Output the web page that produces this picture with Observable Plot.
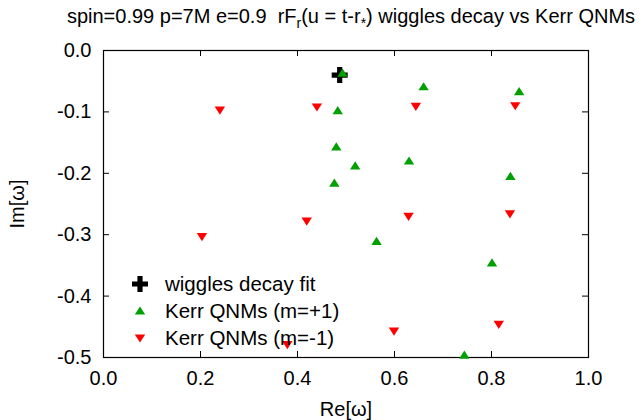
<!DOCTYPE html>
<html><head><meta charset="utf-8">
<script src="https://cdn.jsdelivr.net/npm/d3@7"></script>
<script src="https://cdn.jsdelivr.net/npm/@observablehq/plot@0.6"></script>
<style>
body{margin:0;background:#fff;font-family:"Liberation Sans",Arial,sans-serif;color:#000;}
#wrap{position:relative;width:644px;height:420px;overflow:hidden;}
#title{height:40px;position:relative;font-size:20px;}
#title span.t{position:absolute;left:351px;top:5px;transform:translateX(-50%);white-space:nowrap;}
#title sub{font-size:14px;vertical-align:-5px;line-height:0;}
#legend{position:absolute;left:130px;top:270px;font-size:20.5px;}
#legend .row{height:27px;display:flex;align-items:center;}
#legend svg{width:20px;height:20px;margin-right:15px;}
#legend span{white-space:nowrap;}
#chart svg text{font-size:20px !important;}
</style></head><body>
<div id="wrap">
<div id="title"><span class="t">spin=0.99 p=7M e=0.9&nbsp; rF<sub>r</sub>(u = t-r<sub>*</sub>) wiggles decay vs Kerr QNMs</span></div>
<div id="chart"></div>
<div id="legend"></div>
</div>
<script>
// data
const fitRe = [0.487];
const fitIm = [-0.040];
const plusRe = [0.493, 0.483, 0.480, 0.519, 0.476, 0.660, 0.857, 0.630, 0.839, 0.563, 0.801, 0.744];
const plusIm = [-0.037, -0.098, -0.157, -0.188, -0.216, -0.059, -0.067, -0.180, -0.205, -0.311, -0.346, -0.496];
const minusRe = [0.240, 0.440, 0.644, 0.849, 0.203, 0.419, 0.379, 0.629, 0.838, 0.599, 0.815];
const minusIm = [-0.097, -0.092, -0.091, -0.090, -0.303, -0.278, -0.479, -0.270, -0.266, -0.457, -0.446];
const xTicks = [0, 0.2, 0.4, 0.6, 0.8, 1.0];
const yTicks = [0, -0.1, -0.2, -0.3, -0.4, -0.5];
const seriesNames = ["wiggles decay fit", "Kerr QNMs (m=+1)", "Kerr QNMs (m=-1)"];
const seriesColors = ["#000000", "#00a000", "#ff0000"];

const fit = fitRe.map((x, i) => ({x, y: fitIm[i]}));
const plus = plusRe.map((x, i) => ({x, y: plusIm[i]}));
const minus = minusRe.map((x, i) => ({x, y: minusIm[i]}));

const crossSym = {draw(c) { const a = 8, b = 2.6;
  c.moveTo(-b,-a); c.lineTo(b,-a); c.lineTo(b,-b); c.lineTo(a,-b); c.lineTo(a,b); c.lineTo(b,b);
  c.lineTo(b,a); c.lineTo(-b,a); c.lineTo(-b,b); c.lineTo(-a,b); c.lineTo(-a,-b); c.lineTo(-b,-b); c.closePath(); }};
const upSym = {draw(c) { c.moveTo(0,-4.6); c.lineTo(5.2,3.6); c.lineTo(-5.2,3.6); c.closePath(); }};
const downSym = {draw(c) { c.moveTo(0,4.6); c.lineTo(5.2,-3.6); c.lineTo(-5.2,-3.6); c.closePath(); }};

const W = 644, H = 380, mT = 10, mB = 63, mL = 103, mR = 56;
const pH = H - mT - mB, pW = W - mL - mR, tk = 6;

const chart = Plot.plot({
  width: W, height: H,
  marginTop: mT, marginBottom: mB, marginLeft: mL, marginRight: mR,
  style: {fontFamily: '"Liberation Sans", Arial, sans-serif', fontSize: "20px", background: "#fff", color: "#000"},
  x: {domain: [0, 1]},
  y: {domain: [-0.5, 0]},
  marks: [
    Plot.ruleX(xTicks, {x: d => d, insetTop: pH - tk, stroke: "#000"}),
    Plot.ruleX(xTicks, {x: d => d, insetBottom: pH - tk, stroke: "#000"}),
    Plot.ruleY(yTicks, {y: d => d, insetRight: pW - tk, stroke: "#000"}),
    Plot.ruleY(yTicks, {y: d => d, insetLeft: pW - tk, stroke: "#000"}),
    Plot.axisX({ticks: xTicks, tickSize: 0, tickPadding: 13, tickFormat: d => d.toFixed(1), fontSize: 20,
      label: "Re[ω]", labelArrow: false, labelAnchor: "center", labelOffset: 58}),
    Plot.axisY({ticks: yTicks, tickSize: 0, tickPadding: 12, tickFormat: d => d.toFixed(1), fontSize: 20,
      label: "Im[ω]", labelArrow: false, labelAnchor: "center", labelOffset: 94}),
    Plot.frame({stroke: "#000", strokeWidth: 1.2}),
    Plot.dot(fit, {x: "x", y: "y", symbol: crossSym, fill: seriesColors[0], stroke: "none", r: 6}),
    Plot.dot(plus, {x: "x", y: "y", symbol: upSym, fill: seriesColors[1], stroke: "none", r: 4}),
    Plot.dot(minus, {x: "x", y: "y", symbol: downSym, fill: seriesColors[2], stroke: "none", r: 4})
  ]
});
document.getElementById("chart").appendChild(chart);

const paths = [
  "M-2.6,-8H2.6V-2.6H8V2.6H2.6V8H-2.6V2.6H-8V-2.6H-2.6Z",
  "M0,-4.6L5.2,3.6L-5.2,3.6Z",
  "M0,4.6L5.2,-3.6L-5.2,-3.6Z"
];
const leg = document.getElementById("legend");
seriesNames.forEach((n, i) => {
  const row = document.createElement("div");
  row.className = "row";
  row.innerHTML = `<svg viewBox="-10 -10 20 20"><path d="${paths[i]}" fill="${seriesColors[i]}"/></svg><span>${n}</span>`;
  leg.appendChild(row);
});
</script>
</body></html>
